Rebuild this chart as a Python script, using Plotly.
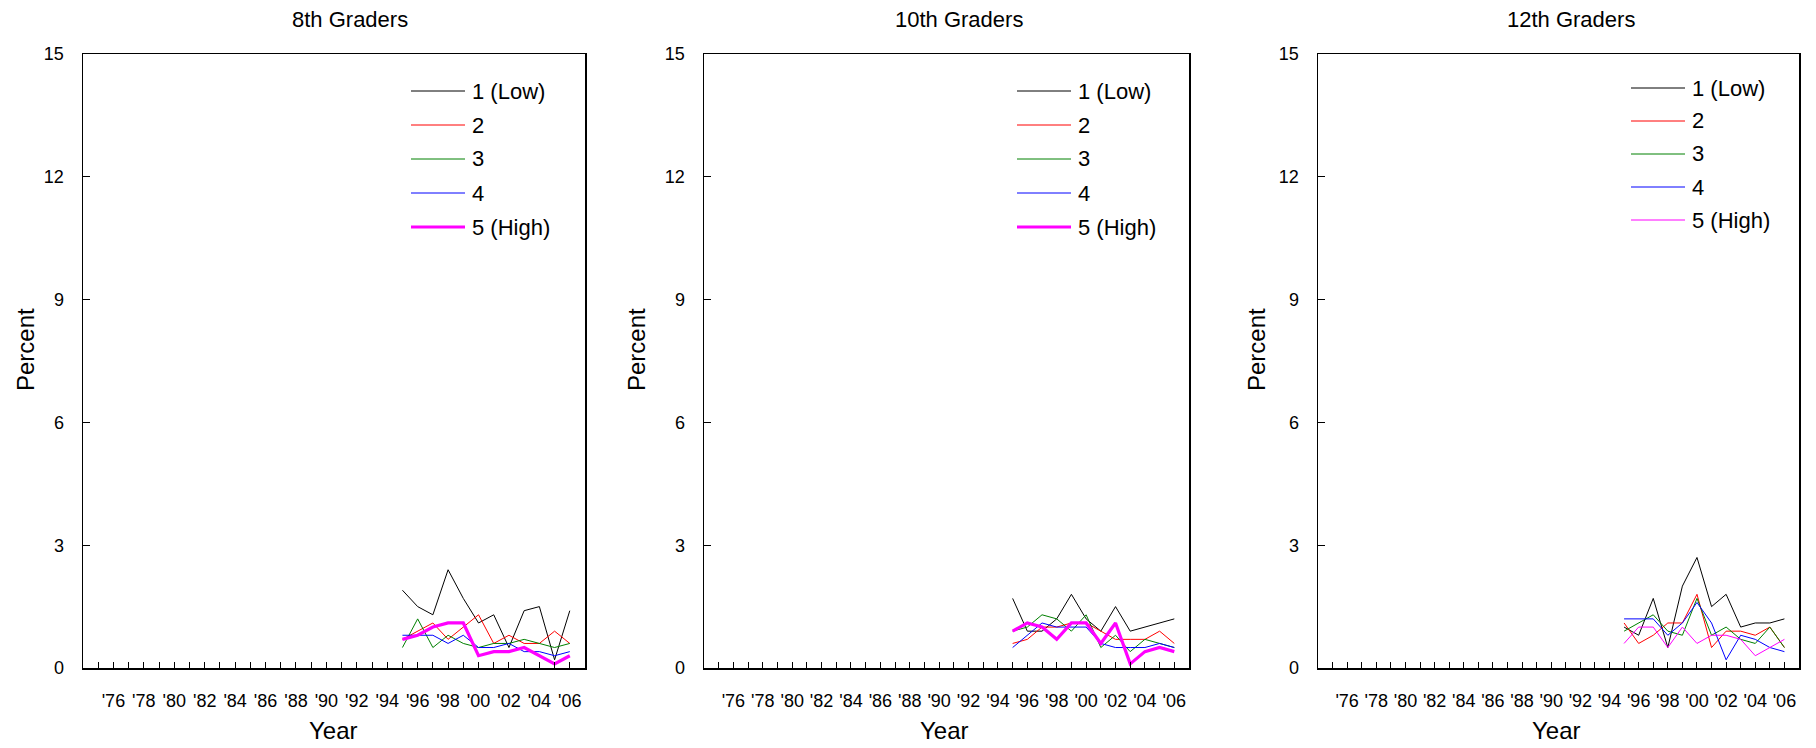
import plotly.graph_objects as go

# Figure fills the whole 1816x748 window; the page's default body margin
# is removed by a small post-script so pixel positions map 1:1.
W, H = 1816, 748

years = [1995, 1996, 1997, 1998, 1999, 2000, 2001, 2002, 2003, 2004, 2005, 2006]
series_names = ["1 (Low)", "2", "3", "4", "5 (High)"]
panel_titles = ["8th Graders", "10th Graders", "12th Graders"]

# 8th graders
g8_low = [1.9, 1.5, 1.3, 2.4, 1.7, 1.1, 1.3, 0.5, 1.4, 1.5, 0.2, 1.4]
g8_2 = [0.7, 0.9, 1.1, 0.7, 1.0, 1.3, 0.6, 0.8, 0.6, 0.6, 0.9, 0.6]
g8_3 = [0.5, 1.2, 0.5, 0.8, 0.6, 0.5, 0.6, 0.6, 0.7, 0.6, 0.5, 0.6]
g8_4 = [0.8, 0.8, 0.8, 0.6, 0.8, 0.5, 0.5, 0.6, 0.4, 0.4, 0.3, 0.4]
g8_high = [0.7, 0.8, 1.0, 1.1, 1.1, 0.3, 0.4, 0.4, 0.5, 0.3, 0.1, 0.3]

# 10th graders
g10_low = [1.7, 0.9, 0.9, 1.2, 1.8, 1.2, 0.9, 1.5, 0.9, 1.0, 1.1, 1.2]
g10_2 = [0.6, 0.7, 1.0, 1.0, 1.1, 1.1, 0.9, 0.7, 0.7, 0.7, 0.9, 0.6]
g10_3 = [0.9, 1.0, 1.3, 1.2, 0.9, 1.3, 0.5, 0.8, 0.4, 0.7, 0.6, 0.5]
g10_4 = [0.5, 0.8, 1.1, 1.0, 1.0, 1.0, 0.6, 0.5, 0.5, 0.5, 0.6, 0.5]
g10_high = [0.9, 1.1, 1.0, 0.7, 1.1, 1.1, 0.6, 1.1, 0.1, 0.4, 0.5, 0.4]

# 12th graders
g12_low = [1.0, 0.8, 1.7, 0.5, 2.0, 2.7, 1.5, 1.8, 1.0, 1.1, 1.1, 1.2]
g12_2 = [1.1, 0.6, 0.8, 1.1, 1.1, 1.8, 0.5, 0.9, 0.9, 0.8, 1.0, 0.5]
g12_3 = [0.9, 1.1, 1.3, 0.9, 0.8, 1.7, 0.8, 1.0, 0.7, 0.6, 1.0, 0.5]
g12_4 = [1.2, 1.2, 1.2, 0.8, 1.1, 1.6, 1.1, 0.2, 0.8, 0.7, 0.5, 0.4]
g12_high = [0.6, 1.0, 1.0, 0.5, 1.0, 0.6, 0.8, 0.8, 0.7, 0.3, 0.5, 0.7]

tick_years = list(range(1975, 2007))
tick_labels = ["'%02d" % (y % 100) if y % 2 == 0 else "" for y in tick_years]
y_ticks = [0, 3, 6, 9, 12, 15]

panels = [
    [g8_low, g8_2, g8_3, g8_4, g8_high],
    [g10_low, g10_2, g10_3, g10_4, g10_high],
    [g12_low, g12_2, g12_3, g12_4, g12_high],
]
colors = ["#000000", "#FF0000", "#008000", "#0000FF", "#FF00FF"]
high_width = [3.2, 3.2, 1.0]

# layout geometry in window pixels (converted below)
x_doms = [(83, 585), (704, 1189), (1318, 1799)]
y_top, y_bot = 54, 668
title_x = [350, 959, 1571]
ylab_x = [25, 636, 1256]
xlab_x = [333, 944, 1556]
leg_line_x = [411, 1017, 1631]
leg_line_len = 54
leg_first_y = [91, 91, 88]
leg_step = [34, 34, 33]


def fx(px):
    return px / W


def fy(py):
    return 1 - py / H


FONT = "Liberation Sans, Arial, sans-serif"

fig = go.Figure()
shapes = []
annotations = []
for p, data in enumerate(panels):
    xa = "x" if p == 0 else "x%d" % (p + 1)
    ya = "y" if p == 0 else "y%d" % (p + 1)
    for i, vals in enumerate(data):
        w = high_width[p] if i == 4 else 1.0
        fig.add_trace(go.Scatter(
            x=years, y=vals, mode="lines", name=series_names[i],
            line=dict(color=colors[i], width=w),
            xaxis=xa, yaxis=ya, showlegend=False,
        ))
        # legend key drawn in paper space
        ly = leg_first_y[p] + i * leg_step[p]
        shapes.append(dict(
            type="line", xref="paper", yref="paper",
            x0=fx(leg_line_x[p]), x1=fx(leg_line_x[p] + leg_line_len),
            y0=fy(ly), y1=fy(ly), line=dict(color=colors[i], width=w),
        ))
        annotations.append(dict(
            text=series_names[i], x=fx(leg_line_x[p] + leg_line_len + 5), y=fy(ly),
            xref="paper", yref="paper", showarrow=False,
            font=dict(size=22), xanchor="left", yanchor="middle",
        ))

layout = dict(
    width=W, height=H,
    margin=dict(l=0, r=0, t=0, b=0, autoexpand=False),
    paper_bgcolor="white", plot_bgcolor="white",
    font=dict(family=FONT, color="#000000", size=18),
    showlegend=False,
)
for p in range(3):
    sfx = "" if p == 0 else str(p + 1)
    x0, x1 = x_doms[p]
    layout["xaxis" + sfx] = dict(
        domain=[fx(x0), fx(x1)], range=[1974, 2007],
        tickmode="array", tickvals=tick_years, ticktext=tick_labels,
        ticks="inside", ticklen=6, tickwidth=1, tickcolor="#000000",
        showline=True, linecolor="#000000", linewidth=1.5, mirror=True,
        showgrid=False, zeroline=False, ticklabelstandoff=16,
        tickfont=dict(size=18), anchor="y" + sfx, automargin=False,
    )
    layout["yaxis" + sfx] = dict(
        domain=[fy(y_bot), fy(y_top)], range=[0, 15],
        tickmode="array", tickvals=y_ticks,
        ticks="inside", ticklen=7, tickwidth=1, tickcolor="#000000",
        showline=True, linecolor="#000000", linewidth=1.5, mirror=True,
        showgrid=False, zeroline=False, ticklabelstandoff=14,
        tickfont=dict(size=18), anchor="x" + sfx, automargin=False,
    )
    annotations += [
        dict(text=panel_titles[p], x=fx(title_x[p]), y=fy(20),
             xref="paper", yref="paper", showarrow=False,
             font=dict(size=22), xanchor="center", yanchor="middle"),
        dict(text="Percent", x=fx(ylab_x[p]), y=fy(350),
             xref="paper", yref="paper", showarrow=False, textangle=-90,
             font=dict(size=24), xanchor="center", yanchor="middle"),
        dict(text="Year", x=fx(xlab_x[p]), y=fy(730),
             xref="paper", yref="paper", showarrow=False,
             font=dict(size=24), xanchor="center", yanchor="middle"),
    ]

layout["shapes"] = shapes
layout["annotations"] = annotations
fig.update_layout(**layout)
fig.write_html(
    "out.html",
    config={"displayModeBar": False, "staticPlot": True},
    post_script="document.body.style.margin='0';document.body.style.overflow='hidden';",
)
